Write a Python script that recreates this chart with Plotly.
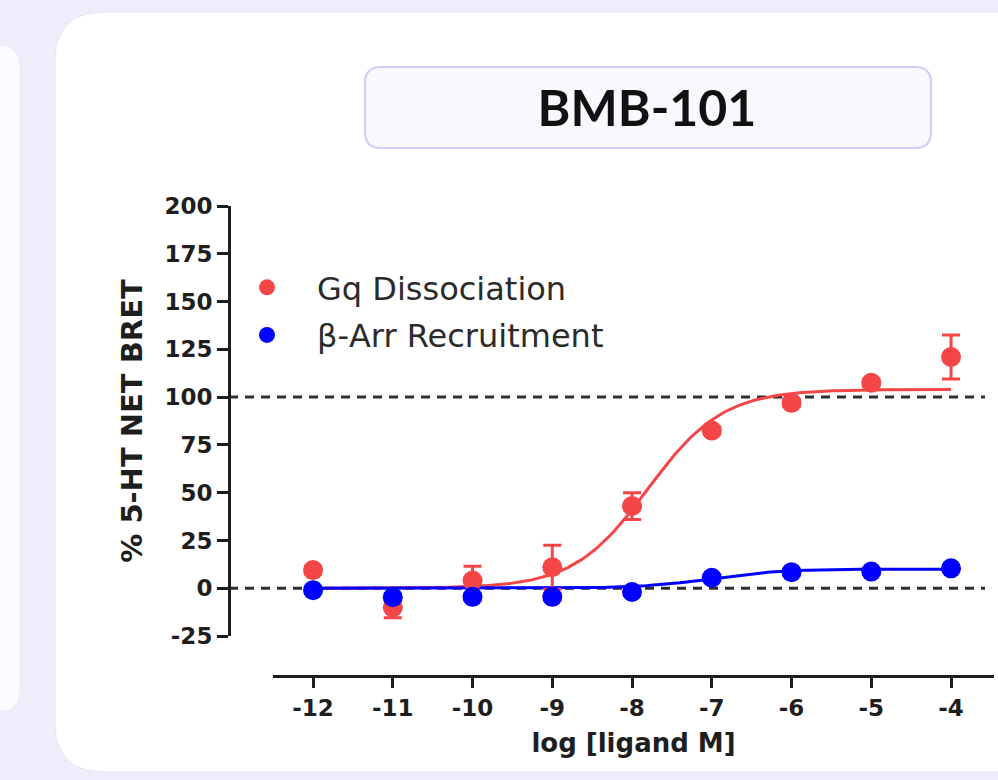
import numpy as np
import plotly.graph_objects as go

# ---------------- data ----------------
log_conc = [-12, -11, -10, -9, -8, -7, -6, -5, -4]
x_ticks = [-12, -11, -10, -9, -8, -7, -6, -5, -4]
x_tick_text = ["-12", "-11", "-10", "-9", "-8", "-7", "-6", "-5", "-4"]
y_ticks = [-25, 0, 25, 50, 75, 100, 125, 150, 175, 200]
y_tick_text = ["-25", "0", "25", "50", "75", "100", "125", "150", "175", "200"]

gq_mean = [9.5, -10, 4, 11, 43, 82.5, 97, 107.5, 121]
gq_err = [2, 5.5, 7.5, 11.5, 7, 2, 2, 2, 11.5]

barr_mean = [-1, -4.7, -4.5, -4.5, -2, 5.5, 8.4, 8.7, 10.4]
barr_err = [1.5, 1.5, 1.5, 1.5, 1.5, 1.5, 1.5, 1.5, 1.5]

# 4-parameter logistic fit parameters (bottom, top, logEC50, hill)
gq_fit = dict(bottom=0.0, top=104.0, logec50=-7.80, hill=0.93)
barr_fit = dict(bottom=0.0, top=10.0, logec50=-7.0, hill=1.0)
fit_x = np.linspace(-12, -4, 241)

ref_lines = [0, 100]

series_names = ["Gq Dissociation", "\u03b2-Arr Recruitment"]
title_text = "BMB-101"
x_title = "log [ligand M]"
y_title = "% 5-HT NET BRET"

RED = "#f44646"
BLUE = "#0000ff"
INK = "#1e1e1e"
FONT = "DejaVu Sans"


def four_pl(x, p):
    return p["bottom"] + (p["top"] - p["bottom"]) / (1 + 10 ** ((p["logec50"] - x) * p["hill"]))


# ---------------- layout geometry (pixels) ----------------
W, H = 998, 780
L, R, T, B = 229, 4, 206, 104
PW, PH = W - L - R, H - T - B


def px(xp):
    return (xp - L) / PW


def py(yp):
    return (H - B - yp) / PH


def rounded(x0, y0, x1, y1, r):
    pts = [
        ("M", (x0 + r, y0)), ("L", (x1 - r, y0)), ("Q", (x1, y0), (x1, y0 + r)),
        ("L", (x1, y1 - r)), ("Q", (x1, y1), (x1 - r, y1)),
        ("L", (x0 + r, y1)), ("Q", (x0, y1), (x0, y1 - r)),
        ("L", (x0, y0 + r)), ("Q", (x0, y0), (x0 + r, y0)),
    ]
    s = ""
    for p in pts:
        cmd = p[0]
        coords = " ".join(f"{px(a):.5f},{py(b):.5f}" for a, b in p[1:])
        s += f"{cmd} {coords} "
    return s + "Z"


fig = go.Figure()

# fitted curves
fig.add_trace(go.Scatter(x=fit_x, y=four_pl(fit_x, gq_fit), mode="lines",
                         line=dict(color=RED, width=3), showlegend=False, hoverinfo="skip"))
fig.add_trace(go.Scatter(x=fit_x, y=four_pl(fit_x, barr_fit), mode="lines",
                         line=dict(color=BLUE, width=3), showlegend=False, hoverinfo="skip"))

# data points
fig.add_trace(go.Scatter(
    x=log_conc, y=gq_mean, mode="markers", name=series_names[0], legendgroup="a",
    marker=dict(color=RED, size=20),
    error_y=dict(type="data", array=gq_err, color=RED, thickness=3, width=9),
    cliponaxis=False))
fig.add_trace(go.Scatter(
    x=log_conc, y=barr_mean, mode="markers", name=series_names[1], legendgroup="b",
    marker=dict(color=BLUE, size=20),
    error_y=dict(type="data", array=barr_err, color=BLUE, thickness=3, width=9),
    cliponaxis=False))

shapes = [
    # left neighbouring card
    dict(type="path", xref="paper", yref="paper", path=rounded(-80, 45, 20, 712, 22),
         fillcolor="#fcfbff", line=dict(color="#ebe8fb", width=1), layer="below"),
    # main card
    dict(type="path", xref="paper", yref="paper", path=rounded(55, 12, 1150, 772, 50),
         fillcolor="#ffffff", line=dict(color="#e8e5fa", width=1), layer="below"),
    # title box
    dict(type="path", xref="paper", yref="paper", path=rounded(365, 67, 931, 148, 16),
         fillcolor="#f9f8ff", line=dict(color="#d3cbfb", width=2), layer="below"),
]
for v in ref_lines:
    shapes.append(dict(type="line", xref="paper", yref="y", x0=0, x1=px(985), y0=v, y1=v,
                       line=dict(color="#2e2e2e", width=3, dash="9px,7px"), layer="below"))

fig.update_layout(
    width=W, height=H,
    margin=dict(l=L, r=R, t=T, b=B, pad=0),
    paper_bgcolor="#efedfc",
    plot_bgcolor="rgba(0,0,0,0)",
    shapes=shapes,
    title=dict(text=title_text, x=647 / W, xanchor="center", y=1 - 108 / H, yanchor="middle",
               xref="container", yref="container",
               font=dict(family="Lato", size=50, color="#111111", weight="bold")),
    legend=dict(x=px(217), y=py(260), xanchor="left", yanchor="top",
                bgcolor="rgba(0,0,0,0)", tracegroupgap=3, itemwidth=90,
                font=dict(family=FONT, size=32, color="#2b2b2b")),
    xaxis=dict(domain=[px(273), 1], range=[-12.502, -3.461], anchor="free", position=0,
               showline=True, linecolor=INK, linewidth=3,
               ticks="outside", ticklen=10, tickwidth=3, tickcolor=INK,
               tickvals=x_ticks, ticktext=x_tick_text, showgrid=False, zeroline=False,
               tickfont=dict(family=FONT, size=23, color=INK, weight="bold"),
               title=dict(text=x_title, standoff=14,
                          font=dict(family=FONT, size=26, color=INK, weight="bold"))),
    yaxis=dict(domain=[py(636), 1], range=[-25, 200], anchor="free", position=0,
               showline=True, linecolor=INK, linewidth=3,
               ticks="outside", ticklen=11, tickwidth=3, tickcolor=INK,
               tickvals=y_ticks, ticktext=y_tick_text, showgrid=False, zeroline=False,
               tickfont=dict(family=FONT, size=23, color=INK, weight="bold"),
               title=dict(text=y_title, standoff=12,
                          font=dict(family=FONT, size=29, color=INK, weight="bold"))),
)

fig.write_html("out.html")
